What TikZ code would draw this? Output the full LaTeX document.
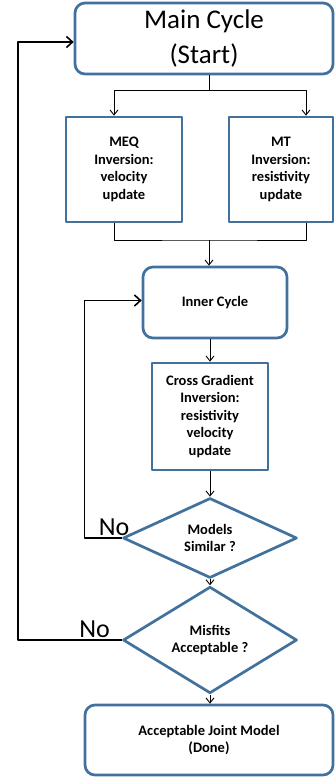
\documentclass[tikz,border=0pt]{standalone}
\usepackage{fontspec}
\setmainfont{Carlito}
\usetikzlibrary{shapes.geometric,arrows.meta}
\definecolor{boxblue}{RGB}{65,113,156}
\begin{document}
\begin{tikzpicture}[x=1pt,y=-1pt,line join=round,>={Straight Barb[length=5pt,width=8pt]},
	box/.style={draw=boxblue,line width=2.7pt,fill=white,align=center,inner sep=2pt,font=\bfseries\fontsize{14.5}{17.5}\selectfont},
	rbox/.style={box,rounded corners=10pt},
	decision/.style={box,diamond,inner sep=0pt,minimum width=174pt,minimum height=80pt},
	conn/.style={line width=0.9pt,->},
	backline/.style={line width=1.6pt,-{Straight Barb[length=6pt,width=11pt]}},
	nolabel/.style={font=\fontsize{26}{30}\selectfont}]
	\useasboundingbox (0,0) rectangle (335,777);
	\node[rbox,minimum width=258pt,minimum height=71pt,font=\fontsize{27}{35}\selectfont] (main) at (204,38.5) {Main Cycle\\(Start)};
	\node[box,minimum width=116pt,minimum height=105pt] (meq) at (124,169.5) {MEQ\\Inversion:\\velocity\\update};
	\node[box,minimum width=104pt,minimum height=105pt] (mt) at (281,169.5) {MT\\Inversion:\\resistivity\\update};
	\node[rbox,minimum width=144pt,minimum height=71pt] (inner) at (215,302.5) {Inner Cycle};
	\node[box,minimum width=116pt,minimum height=107pt] (cross) at (210,416.5) {Cross Gradient\\Inversion:\\resistivity\\velocity\\update};
	\node[decision] (simil) at (210,538) {Models\\Similar ?};
	\node[decision] (misfit) at (210,640) {Misfits\\Acceptable ?};
	\node[rbox,minimum width=248pt,minimum height=70pt] (done) at (209,740) {Acceptable Joint Model\\(Done)};
	\node[nolabel] (no1) at (114,527) {No};
	\node[nolabel] (no2) at (94.5,629) {No};
	% split and join of the two inversions
	\coordinate (split) at (209,90);
	\coordinate (join) at (209,240);
	\draw[line width=0.9pt] (main.south -| split) -- (split);
	\draw[conn] (split) -| ([xshift=-10pt]meq.north);
	\draw[conn] (split) -| ([xshift=25pt]mt.north);
	\draw[line width=0.9pt] ([xshift=-10pt]meq.south) |- (join) -| ([xshift=25pt]mt.south);
	\draw[conn] (join) -- (inner.north -| join);
	\draw[conn] (inner.south -| cross) -- (cross.north);
	\draw[conn] (cross.south) -- (simil.north);
	\draw[conn] (simil.south) -- (misfit.north);
	\draw[conn] (misfit.south) -- (done.north -| misfit);
	% loops back
	\draw[backline] (simil.west) -- ++(-37,0) |- ([yshift=2pt]inner.west);
	\draw[backline] (misfit.west) -| (18,42) -- ([yshift=-3.5pt]main.west);
\end{tikzpicture}
\end{document}
